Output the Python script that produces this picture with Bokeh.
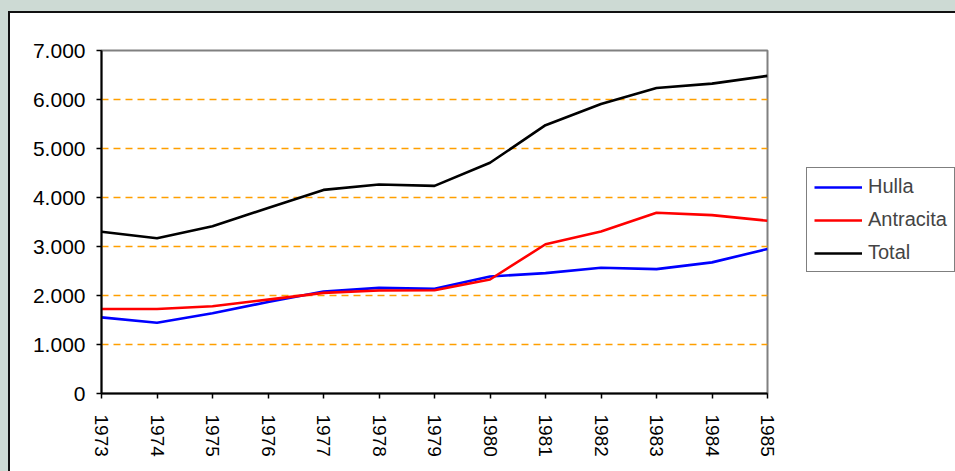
import math
from bokeh.plotting import figure
from bokeh.layouts import row
from bokeh.models import Range1d, FixedTicker, Legend, LegendItem
from bokeh.embed import file_html
from bokeh.resources import INLINE

years = [1973, 1974, 1975, 1976, 1977, 1978, 1979, 1980, 1981, 1982, 1983, 1984, 1985]
hulla = [1554, 1444, 1636, 1869, 2081, 2156, 2136, 2389, 2457, 2567, 2539, 2676, 2950]
antracita = [1725, 1725, 1780, 1916, 2053, 2101, 2108, 2327, 3046, 3306, 3689, 3641, 3525]
total = [3300, 3170, 3415, 3785, 4155, 4264, 4237, 4709, 5476, 5907, 6235, 6324, 6482]
series_names = ["Hulla", "Antracita", "Total"]
series_colors = ["#0000ff", "#ff0000", "#000000"]
y_ticks = [0, 1000, 2000, 3000, 4000, 5000, 6000, 7000]
y_labels = ["0", "1.000", "2.000", "3.000", "4.000", "5.000", "6.000", "7.000"]
grid_ticks = [1000, 2000, 3000, 4000, 5000, 6000]

FONT = "Liberation Sans"
BG = "#cddad4"

fig = figure(width=770, height=458, output_backend="svg", toolbar_location=None,
             x_range=Range1d(1973, 1985), y_range=Range1d(0, 7000),
             min_border_left=91, min_border_right=13, min_border_top=37, min_border_bottom=78)
fig.border_fill_color = "white"
fig.background_fill_color = "white"
fig.outline_line_color = "#808080"
fig.outline_line_width = 2

# axes
fig.yaxis.ticker = FixedTicker(ticks=y_ticks)
fig.yaxis.major_label_overrides = {t: l for t, l in zip(y_ticks, y_labels)}
fig.xaxis.ticker = FixedTicker(ticks=years)
fig.xaxis.major_label_overrides = {y: str(y) for y in years}
fig.xaxis.major_label_orientation = -math.pi / 2
for ax in (fig.xaxis, fig.yaxis):
    ax.axis_line_color = "black"
    ax.axis_line_width = 2
    ax.major_tick_line_color = "black"
    ax.major_tick_line_width = 1.5
    ax.major_tick_out = 5
    ax.major_tick_in = 0
    ax.minor_tick_line_color = None
    ax.major_label_text_font = FONT
    ax.major_label_text_color = "black"
fig.yaxis.major_label_text_font_size = "21px"
fig.xaxis.major_label_text_font_size = "19px"
fig.yaxis.major_label_standoff = 11
fig.xaxis.major_label_standoff = 16

# grid
fig.xgrid.grid_line_color = None
fig.ygrid.ticker = FixedTicker(ticks=grid_ticks)
fig.ygrid.grid_line_color = "#ff9f00"
fig.ygrid.grid_line_dash = "7 5"
fig.ygrid.grid_line_width = 1.3

for vals, col in zip([hulla, antracita, total], series_colors):
    fig.line(years, vals, line_color=col, line_width=2.6)

# legend panel (its lines carry the same data, outside this panel's view)
leg = figure(width=175, height=458, output_backend="svg", toolbar_location=None,
             x_range=Range1d(0, 1), y_range=Range1d(0, 1),
             x_axis_location=None, y_axis_location=None, min_border=0)
leg.outline_line_color = None
leg.border_fill_color = "white"
leg.background_fill_color = "white"
leg.xgrid.grid_line_color = None
leg.ygrid.grid_line_color = None
leg_renderers = []
for vals, col in zip([hulla, antracita, total], series_colors):
    leg_renderers.append(leg.line(years, vals, line_color=col, line_width=2.6))

legend = Legend(items=[LegendItem(label=n, renderers=[r]) for n, r in zip(series_names, leg_renderers)],
                location=(26, 121))
legend.border_line_color = "black"
legend.border_line_width = 1
legend.background_fill_color = "white"
legend.background_fill_alpha = 1
legend.label_text_font = FONT
legend.label_text_font_size = "20px"
legend.glyph_width = 48
legend.glyph_height = 20
legend.label_height = 20
legend.label_standoff = 6
legend.spacing = 10
legend.padding = 7
legend.margin = 0
leg.add_layout(legend, "center")

p = row(fig, leg, spacing=0)
p.styles = {"margin-top": "11px", "margin-left": "8px", "border-left": "2px solid #111111",
            "border-top": "2px solid #111111", "box-shadow": "0 0 0 14px " + BG,
            "background-color": "white"}

open("out.html", "w").write(file_html(p, INLINE))
